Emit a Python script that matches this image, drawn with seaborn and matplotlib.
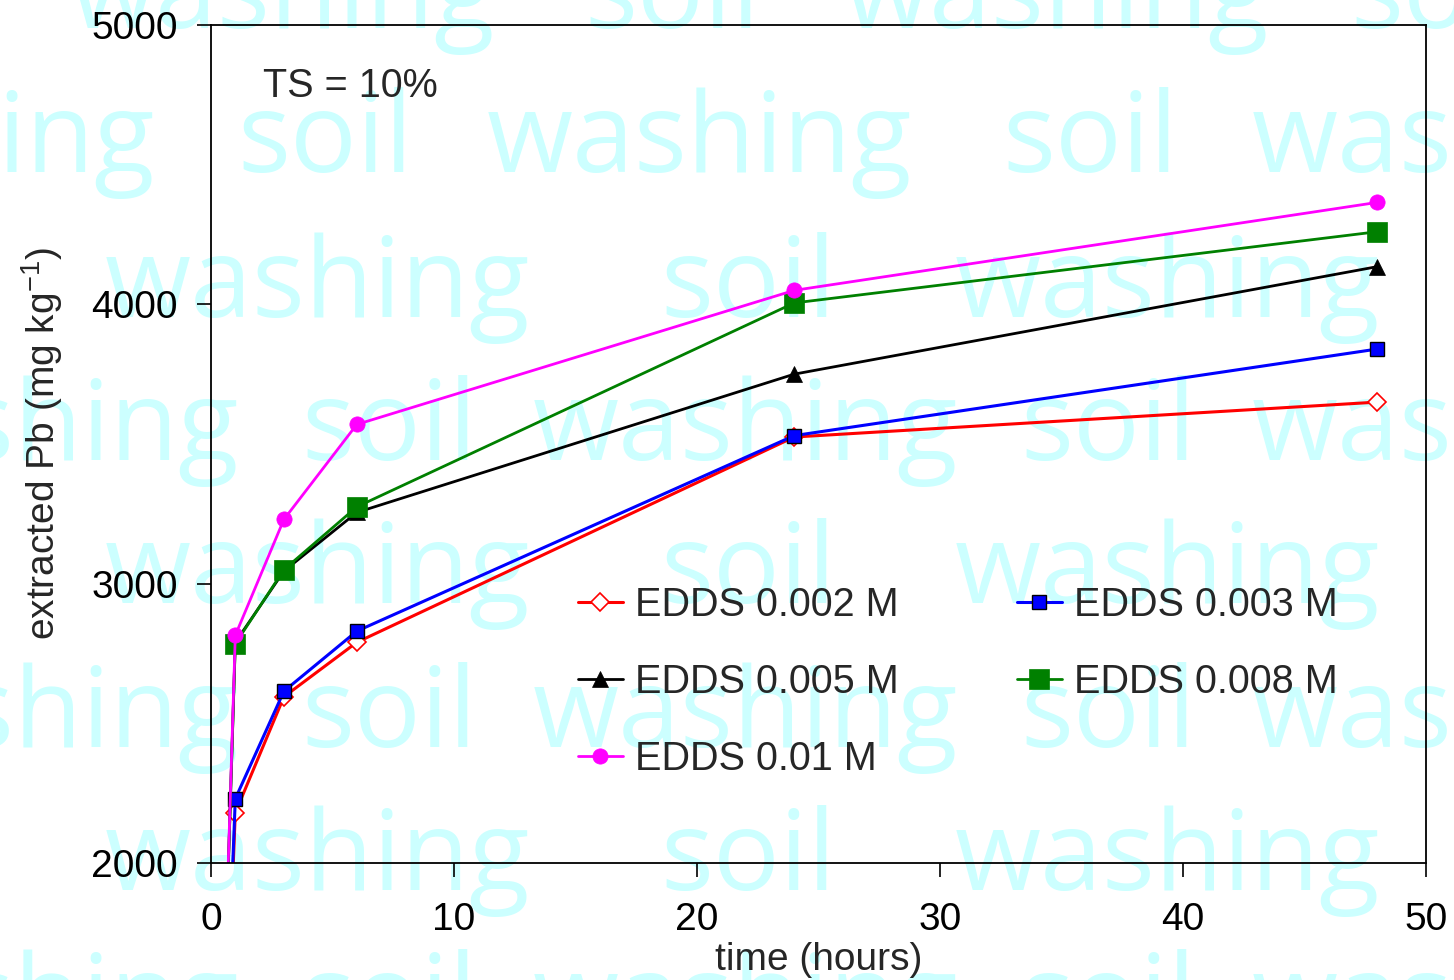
import pandas as pd
import matplotlib.pyplot as plt
import seaborn as sns

# extraction time (hours) and extracted Pb (mg/kg) for each EDDS dose
time_h = [0, 1, 3, 6, 24, 48]
edds_0002 = [0, 2180, 2595, 2790, 3525, 3650]
edds_0003 = [0, 2230, 2615, 2830, 3530, 3840]
edds_0005 = [0, 2790, 3045, 3255, 3750, 4135]
edds_0008 = [0, 2785, 3050, 3275, 4005, 4260]
edds_001 = [0, 2815, 3230, 3570, 4050, 4365]

labels = ["EDDS 0.002 M", "EDDS 0.003 M", "EDDS 0.005 M", "EDDS 0.008 M", "EDDS 0.01 M"]
values = [edds_0002, edds_0003, edds_0005, edds_0008, edds_001]

yticks = [2000, 3000, 4000, 5000]
xticks = [0, 10, 20, 30, 40, 50]

rows = []
for lab, vals in zip(labels, values):
    for t, v in zip(time_h, vals):
        rows.append({"time": t, "Pb": v, "series": lab})
df = pd.DataFrame(rows)

styles = {
    "EDDS 0.002 M": dict(color="#ff0000", marker="D", markersize=9, markerfacecolor="white",
                         markeredgecolor="#ff0000", markeredgewidth=1.2, linewidth=2.2),
    "EDDS 0.003 M": dict(color="#0000ff", marker="s", markersize=10, markerfacecolor="#0000ff",
                         markeredgecolor="black", markeredgewidth=1.0, linewidth=2.2),
    "EDDS 0.005 M": dict(color="black", marker="^", markersize=11, markerfacecolor="black",
                         markeredgecolor="black", markeredgewidth=0.5, linewidth=2.0),
    "EDDS 0.008 M": dict(color="#008000", marker="s", markersize=14, markerfacecolor="#008000",
                         markeredgecolor="#008000", markeredgewidth=0.5, linewidth=2.0),
    "EDDS 0.01 M": dict(color="#ff00ff", marker="o", markersize=11, markerfacecolor="#ff00ff",
                        markeredgecolor="#ff00ff", markeredgewidth=0.5, linewidth=2.0),
}

sns.set_style("ticks")
plt.rcParams['font.family'] = ['Liberation Sans', 'DejaVu Sans']

W, H = 1454, 980
fig = plt.figure(figsize=(W / 100, H / 100), dpi=100)
fig.patch.set_facecolor("white")

# background watermark
wm_color = "#ccffff"
wm_rows = [
    (28, [(70, "washing"), (584, "soil"), (844, "washing"), (1350, "soil")]),
    (172, [(-270, "washing"), (237, "soil"), (487, "washing"), (1002, "soil"), (1252, "washing")]),
    (317, [(105, "washing"), (660, "soil"), (955, "washing")]),
    (460, [(-186, "washing"), (301, "soil"), (533, "washing"), (1020, "soil"), (1252, "washing")]),
    (603, [(105, "washing"), (660, "soil"), (955, "washing")]),
    (747, [(-186, "washing"), (301, "soil"), (533, "washing"), (1020, "soil"), (1252, "washing")]),
    (890, [(105, "washing"), (660, "soil"), (955, "washing")]),
    (1034, [(-186, "washing"), (301, "soil"), (533, "washing"), (1020, "soil"), (1252, "washing")]),
]
for yb, words in wm_rows:
    for xl, w in words:
        fig.text(xl / W, 1 - yb / H, w, fontsize=80, color=wm_color, family="Open Sans",
                 ha="left", va="baseline", zorder=-5)

ax = fig.add_axes([211 / W, 1 - 863 / H, (1426 - 211) / W, (863 - 25) / H])
ax.patch.set_alpha(0)

for lab in labels:
    sub = df[df["series"] == lab]
    sns.lineplot(data=sub, x="time", y="Pb", ax=ax, label=lab, **styles[lab])

ax.set_xlim(0, 50)
ax.set_ylim(2000, 5000)
ax.set_xticks(xticks)
ax.set_yticks(yticks)
ax.tick_params(axis="both", direction="out", length=10, width=1.2, labelsize=28, colors="black")
ax.tick_params(axis="x", pad=18)
ax.tick_params(axis="y", pad=14)
for sp in ax.spines.values():
    sp.set_visible(True)
    sp.set_linewidth(1.3)
    sp.set_color("black")

ax.set_xlabel("time (hours)", fontsize=28)
ax.set_ylabel("extracted Pb (mg kg$^{\\mathregular{-1}}$)", fontsize=28)
ax.xaxis.set_label_coords(0.5, -0.094)
ax.yaxis.set_label_coords(-0.12, 0.5)

ax.text(0.043, 0.914, "TS = 10%", transform=ax.transAxes, fontsize=28.5, va="baseline", ha="left")

handles, labs = ax.get_legend_handles_labels()
order = [0, 2, 4, 1, 3]
ax.legend([handles[i] for i in order], [labs[i] for i in order], ncol=2, frameon=False,
          loc="upper left", bbox_to_anchor=(0.302, 0.331), borderpad=0, borderaxespad=0,
          fontsize=28.5, handlelength=1.13, handletextpad=0.3, labelspacing=0.99,
          columnspacing=3.0, numpoints=1)

fig.savefig("out.png", dpi=100)
